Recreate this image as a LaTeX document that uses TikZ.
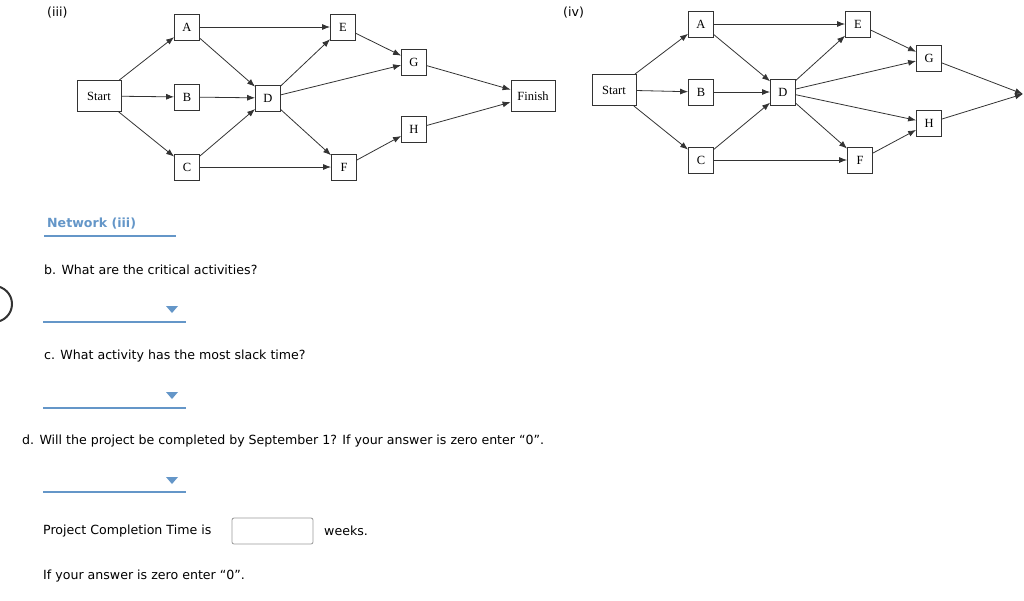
\documentclass[tikz,border=0pt]{standalone}
\usepackage{fontspec}
\setmainfont{DejaVu Sans}
\newfontfamily\boxfont{Liberation Serif}
\usetikzlibrary{arrows.meta}
\definecolor{lnk}{RGB}{100,150,200}
\begin{document}
\begin{tikzpicture}[x=1pt,y=-1pt,
  bx/.style={draw=black!80,fill=white,minimum width=25pt,minimum height=26pt,inner sep=1pt,line width=0.8pt,font=\boxfont\fontsize{12.5}{13}\selectfont},
  wb/.style={bx,minimum width=44pt,minimum height=31pt},
  ar/.style={-{Latex[length=8pt,width=6pt]},draw=black!80,line width=0.8pt},
  q/.style={anchor=west,font=\fontsize{12.6}{15}\selectfont,inner sep=0pt},
  dd/.style={draw=lnk,line width=1.8pt},
  tri/.style={fill=lnk,draw=none}]
\useasboundingbox (0,0) rectangle (1024,600);
% network iii
\node[q] (t3) at (47,13) {(iii)};
\node[wb] (S) at (99,96) {Start};
\node[bx] (A) at (187,27) {A};
\node[bx] (B) at (187,97) {B};
\node[bx] (C) at (187,167) {C};
\node[bx] (D) at (268,98) {D};
\node[bx] (E) at (343,27) {E};
\node[bx] (F) at (344,167) {F};
\node[bx] (G) at (414,62) {G};
\node[bx] (H) at (414,129) {H};
\node[wb] (Fi) at (533,96) {Finish};
\foreach \a/\b in {S/A,S/B,S/C,A/E,A/D,B/D,C/D,C/F,D/E,D/G,D/F,E/G,F/H,G/Fi,H/Fi}
  \draw[ar] (\a) -- (\b);
% network iv
\node[q] (t4) at (563,13) {(iv)};
\node[wb] (S2) at (614,90) {Start};
\node[bx] (A2) at (701,24) {A};
\node[bx] (B2) at (701,92) {B};
\node[bx] (C2) at (701,160) {C};
\node[bx] (D2) at (783,92) {D};
\node[bx] (E2) at (858,24) {E};
\node[bx] (F2) at (860,160) {F};
\node[bx] (G2) at (929,58) {G};
\node[bx] (H2) at (929,123) {H};
\coordinate (Fi2) at (1023,94);
\foreach \a/\b in {S2/A2,S2/B2,S2/C2,A2/E2,A2/D2,B2/D2,C2/D2,C2/F2,D2/E2,D2/G2,D2/H2,D2/F2,E2/G2,F2/H2,G2/Fi2,H2/Fi2}
  \draw[ar] (\a) -- (\b);
% questions
\node[q,font=\bfseries\fontsize{12.6}{15}\selectfont,text=lnk] (net) at (47,224) {Network (iii)};
\draw[dd] (44,236) -- (176,236);
\node[q] (qb) at (44,270) {b. What are the critical activities?};
\draw[dd] (43,322) -- (186,322);
\fill[tri] (166,306) -- (178,306) -- (172,313) -- cycle;
\draw[black!80,line width=2pt] (-6,322) arc[start angle=90,end angle=-90,radius=18];
\node[q] (qc) at (44,356) {c. What activity has the most slack time?};
\draw[dd] (43,408) -- (186,408);
\fill[tri] (166,392) -- (178,392) -- (172,399) -- cycle;
\node[q] (qd) at (22,441) {d. Will the project be completed by September 1? If your answer is zero enter “0”.};
\draw[dd] (43,492) -- (186,492);
\fill[tri] (166,477) -- (178,477) -- (172,484) -- cycle;
\node[q] (pc) at (43,531) {Project Completion Time is};
\draw[black!40,rounded corners=2pt,line width=0.8pt] (232,518) rectangle (313,544);
\node[q] (wk) at (324,531) {weeks.};
\node[q] (iz) at (43,576) {If your answer is zero enter “0”.};
\end{tikzpicture}
\end{document}
